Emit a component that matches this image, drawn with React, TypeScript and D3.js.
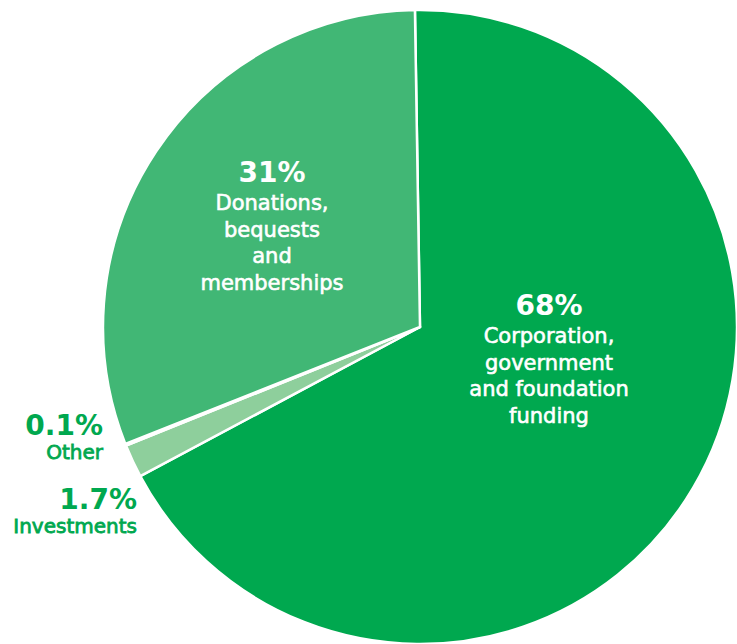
import React from "react";
import * as d3 from "d3";

const categories = ["Corporation, government and foundation funding", "Investments", "Other", "Donations, bequests and memberships"];
const values = [68, 1.7, 0.1, 31];
const colors = ["#00a84f", "#8ecf9c", "#b9e3c2", "#41b775"];
const pctLabels = ["68%", "1.7%", "0.1%", "31%"];
const insideLines: Record<number, string[]> = {
  0: ["Corporation,", "government", "and foundation", "funding"],
  3: ["Donations,", "bequests", "and", "memberships"],
};
const outsideNames: Record<number, string> = { 1: "Investments", 2: "Other" };

const W = 737, H = 644;
const cx = 420, cy = 327, R = 317;
const FONT = "'DejaVu Sans', sans-serif";

export default function App() {
  const pie = d3.pie<number>().sort(null).value((d) => d).startAngle(-0.016).endAngle(-0.016 + 2 * Math.PI);
  const arcs = pie(values);
  const arc = d3.arc<d3.PieArcDatum<number>>().innerRadius(0).outerRadius(R);

  const insidePos: Record<number, [number, number]> = { 0: [549, 315], 3: [272, 182] };
  const outsidePos: Record<number, [number, number]> = { 1: [137, 509], 2: [103, 435] };

  return (
    <svg width={W} height={H} style={{ position: "absolute", left: 0, top: 0, background: "#fff" }}>
      <g transform={`translate(${cx},${cy})`}>
        {arcs.map((a, i) => (
          <path key={categories[i]} d={arc(a) || ""} fill={colors[i]} stroke="#fff" strokeWidth={2.5} strokeLinejoin="round" />
        ))}
      </g>
      {Object.keys(insidePos).map((k) => {
        const i = +k;
        const [x, y] = insidePos[i];
        return (
          <g key={k} fontFamily={FONT} fill="#fff" textAnchor="middle">
            <text x={x} y={y} fontSize={28} fontWeight="bold">{pctLabels[i]}</text>
            {insideLines[i].map((l, j) => (
              <text key={j} x={x} y={y + 28 + j * 26.5} fontSize={21} stroke="#fff" strokeWidth={0.6}>{l}</text>
            ))}
          </g>
        );
      })}
      {Object.keys(outsidePos).map((k) => {
        const i = +k;
        const [x, y] = outsidePos[i];
        return (
          <g key={k} fontFamily={FONT} fill="#00a84f" textAnchor="end">
            <text x={x} y={y} fontSize={28} fontWeight="bold">{pctLabels[i]}</text>
            <text x={x} y={y + 24} fontSize={20} stroke="#00a84f" strokeWidth={0.8}>{outsideNames[i]}</text>
          </g>
        );
      })}
    </svg>
  );
}
